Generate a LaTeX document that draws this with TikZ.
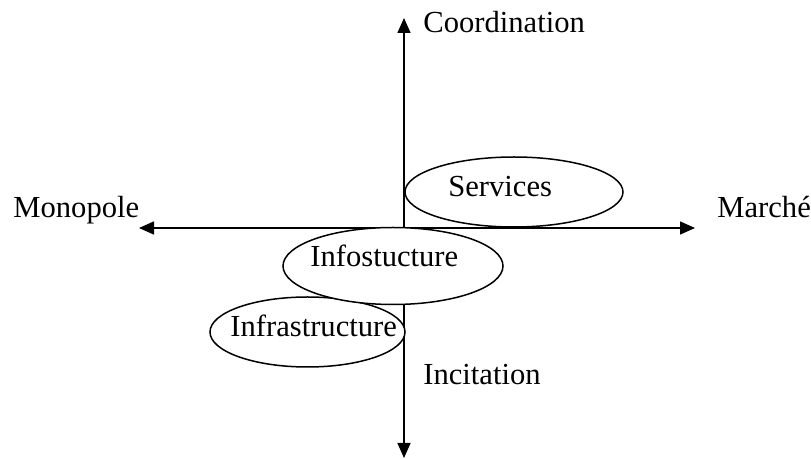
\documentclass[tikz,border=0pt]{standalone}
\usepackage{fontspec}
\setmainfont{Liberation Serif}
\usetikzlibrary{arrows.meta}

\begin{document}
\begin{tikzpicture}[x=0.5pt,y=0.5pt,yscale=-1,xscale=1,
  axis/.style={line width=0.75pt,-{Triangle[length=7.5pt,width=6.5pt]}},
  oval/.style={line width=0.75pt,fill=white},
  lbl/.style={anchor=base west,inner sep=0pt,font=\fontsize{15.3}{18}\selectfont}]
\path (0,0) rectangle (811,459); %set diagram size

%Axes
\coordinate (orig) at (404,228);
\coordinate (top) at (404,18);
\coordinate (bot) at (404,458);
\coordinate (lft) at (139,228);
\coordinate (rgt) at (695,228);
\draw [axis] (orig) -- (top);
\draw [axis] (orig) -- (bot);
\draw [axis] (orig) -- (lft);
\draw [axis] (orig) -- (rgt);

%Shape: Ellipse
\draw [oval] (514,192) ellipse [x radius=109,y radius=35];
%Shape: Ellipse
\draw [oval] (307.5,332) ellipse [x radius=97.5,y radius=35];
%Shape: Ellipse
\draw [oval] (393,266) ellipse [x radius=110,y radius=38.5];

% Text Node
\node [lbl] (coord) at (423,33) {Coordination};
% Text Node
\node [lbl] (monop) at (13,218) {Monopole};
% Text Node
\node [lbl] (march) at (717,218) {Marché};
% Text Node
\node [lbl] (incit) at (423,385) {Incitation};
% Text Node
\node [lbl] (serv) at (448,197) {Services};
% Text Node
\node [lbl] (infos) at (310,267) {Infostucture};
% Text Node
\node [lbl] (infra) at (230,337) {Infrastructure};
\end{tikzpicture}
\end{document}
